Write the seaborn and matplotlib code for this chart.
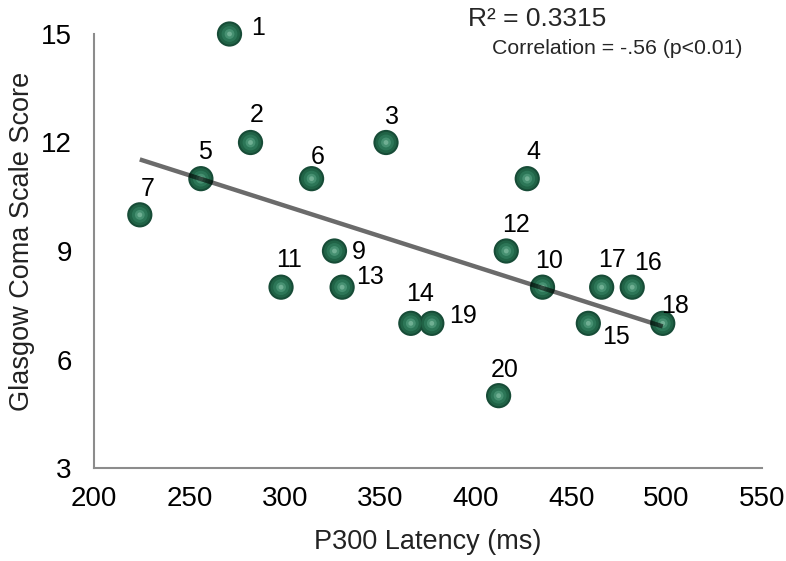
import matplotlib
matplotlib.use("Agg")
import matplotlib.pyplot as plt
import seaborn as sns
import numpy as np
import pandas as pd

# ---- data ----
patient_ids = ["1", "2", "3", "4", "5", "6", "7", "9", "10", "11",
               "12", "13", "14", "15", "16", "17", "18", "19", "20"]
p300_latency = [271, 282, 353, 427, 256, 314, 224, 326, 435, 298,
                416, 330, 366, 459, 482, 466, 498, 377, 412]
gcs_score = [15, 12, 12, 11, 11, 11, 10, 9, 8, 8,
             9, 8, 7, 7, 8, 8, 7, 7, 5]
x_ticks = [200, 250, 300, 350, 400, 450, 500, 550]
y_ticks = [3, 6, 9, 12, 15]
r2_text = "R² = 0.3315"
corr_text = "Correlation = -.56 (p<0.01)"

# label offsets in pixels (dx right, dy down), styling only
label_offsets = {
    "1": (29, 1), "2": (6, -21), "3": (6, -18), "4": (6, -20),
    "5": (4, -20), "6": (6, -15), "7": (8, -19), "9": (24, 8),
    "10": (7, -19), "11": (8, -20), "12": (10, -19), "13": (28, -3),
    "14": (9, -22), "15": (28, 21), "16": (16, -17), "17": (10, -20),
    "18": (12, -10), "19": (31, 0), "20": (6, -19),
}

df = pd.DataFrame({"id": patient_ids, "latency": p300_latency, "gcs": gcs_score})

sns.set_theme(style="white")
plt.rcParams["font.family"] = ["Liberation Sans", "DejaVu Sans"]

fig = plt.figure(figsize=(7.86, 5.61), dpi=100)
ax = fig.add_axes([94 / 786, 1 - 468 / 561, (762 - 94) / 786, (468 - 34) / 561])

# sphere-like markers: dark rim, lighter core, soft highlight
layers = [(330, "#174c37", 1.0), (230, "#226648", 0.9), (130, "#2f7a5b", 0.85),
          (50, "#4f9a7b", 0.75), (12, "#8cc4aa", 0.6)]
for z, (size, col, a) in enumerate(layers):
    sns.scatterplot(data=df, x="latency", y="gcs", ax=ax, s=size, color=col,
                    edgecolor="none", linewidth=0, alpha=a, zorder=3 + z * 0.1,
                    legend=False, clip_on=False)

# linear trend line
sns.regplot(data=df, x="latency", y="gcs", ax=ax, scatter=False, ci=None,
            truncate=True, line_kws=dict(color="black", alpha=0.58, lw=3.2,
                                         zorder=6, solid_capstyle="butt"))

for pid, xv, yv in zip(patient_ids, p300_latency, gcs_score):
    dx, dy = label_offsets[pid]
    ax.annotate(pid, (xv, yv), xytext=(dx, -dy), textcoords="offset pixels",
                ha="center", va="baseline", fontsize=18, color="black", zorder=7,
                annotation_clip=False)

ax.set_xlim(200, 550)
ax.set_ylim(3, 15)
ax.set_xticks(x_ticks)
ax.set_yticks(y_ticks)
ax.set_xticklabels([str(t) for t in x_ticks])
ax.set_yticklabels([str(t) for t in y_ticks])
ax.tick_params(axis="both", length=0, labelsize=20, colors="black")
ax.tick_params(axis="x", pad=13)
ax.tick_params(axis="y", pad=16)

ax.set_xlabel("P300 Latency (ms)", fontsize=19.5, color="#222222", labelpad=12)
ax.set_ylabel("Glasgow Coma Scale Score", fontsize=19.5, color="#222222", va="center")
ax.yaxis.set_label_coords((22 - 94) / 668, (468 - 241) / 434)

for side in ["top", "right"]:
    ax.spines[side].set_visible(False)
for side in ["left", "bottom"]:
    ax.spines[side].set_color("#8c8c8c")
    ax.spines[side].set_linewidth(1.5)
ax.grid(False)
ax.set_facecolor("white")

fig.text(468 / 786, 1 - 26 / 561, r2_text, fontsize=19, ha="left", va="baseline")
fig.text(492 / 786, 1 - 54 / 561, corr_text, fontsize=15.3, ha="left", va="baseline")

fig.savefig("out.png", dpi=100, facecolor="white")
